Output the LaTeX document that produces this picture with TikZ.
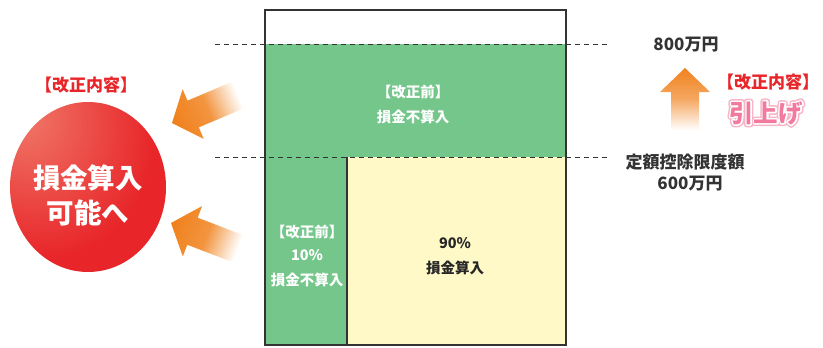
\documentclass[tikz,border=0pt]{standalone}
\usepackage{fontspec}
\setmainfont{Noto Sans CJK JP}
\usetikzlibrary{shapes.geometric}
\definecolor{gr}{HTML}{74C68B}
\definecolor{yl}{HTML}{FFF9C8}
\definecolor{rd}{HTML}{E8262A}
\definecolor{ltrd}{HTML}{F07A6A}
\definecolor{og}{HTML}{F0821E}
\definecolor{pk}{HTML}{F27A9E}
\definecolor{lpk}{HTML}{F7B5C8}
\definecolor{dk}{HTML}{333333}
\pgfdeclareradialshading{redball}{\pgfpoint{-22bp}{22bp}}{color(0bp)=(ltrd); color(35bp)=(rd); color(100bp)=(rd)}
\newcommand{\strk}[2]{\special{pdf:code 1 Tr #1 w 1 j}#2\special{pdf:code 0 Tr 1 w}}
\tikzset{
  wlab/.style={text=white, font=\bfseries\fontsize{14.5}{16}\selectfont, align=center},
  dlab/.style={text=black!85, font=\bfseries\fontsize{14.5}{16}\selectfont, align=center},
  rlab/.style={text=black!80, font=\bfseries\fontsize{17}{19}\selectfont, align=center},
  redlab/.style={text=rd, font=\bfseries\fontsize{17}{19}\selectfont},
  guide/.style={draw=dk, line width=1pt, dash pattern=on 5pt off 4pt},
  box/.style={draw=dk, line width=1.2pt},
  diag/.style={shading=axis, top color=white, bottom color=og, middle color=og!85},
}
\begin{document}
\begin{tikzpicture}[x=1pt,y=-1pt]
\useasboundingbox (0,0) rectangle (823,348);
% fills
\fill[gr] (265,44) rectangle (566,157);
\fill[gr] (265,157) rectangle (347,345);
\fill[yl] (347,157) rectangle (566,345);
\draw[box] (347,157) -- (347,345);
\draw[box] (265,10) rectangle (566,345);
% guides
\coordinate (g1a) at (215,44); \coordinate (g1b) at (610,44);
\coordinate (g2a) at (215,157); \coordinate (g2b) at (610,157);
\draw[guide] (g1a) -- (g1b);
\draw[guide] (g2a) -- (g2b);
% texts in box
\node[wlab] (t1) at (413,92) {【改正前】};
\node[wlab] (t2) at (413,117) {損金不算入};
\node[wlab] (l1) at (307,232) {【改正前】};
\node[wlab] (l2) at (307,255) {10\%};
\node[wlab] (l3) at (307,280) {損金不算入};
\node[dlab] (y1) at (455,243) {90\%};
\node[dlab] (y2) at (455,268) {損金算入};
% right labels
\node[rlab] (r800) at (686,45) {800万円};
\node[rlab] (rdef) at (685,162) {定額控除限度額};
\node[rlab] (r600) at (690,184) {600万円};
% up arrow
\shade[top color=og, bottom color=white, middle color=og!70]
  (685,68) -- (710,92) -- (699,92) -- (699,130) -- (671,130) -- (671,92) -- (660,92) -- cycle;
\node[redlab] (rk) at (768,82) {【改正内容】};
\node[font=\bfseries\fontsize{24.5}{26}\selectfont] (hikiage) at (766,113)
  {\rlap{\color{lpk}\strk{6}{引上げ}}\rlap{\color{white}\strk{3}{引上げ}}{\color{pk}引上げ}};
% left
\node[redlab] (lk) at (86,85) {【改正内容】};
\shade[shading=redball] (88,187) ellipse [x radius=78, y radius=85];
\node[text=white, font=\bfseries\fontsize{27.5}{35}\selectfont, align=center] (ball) at (88,195) {損金算入\\可能へ};
% diagonal arrows
\begin{scope}[shift={(172,123)}, rotate=203]
  \shade[diag, shading angle=-67]
    (0,0) -- (-23,-27) -- (-23,-14.5) -- (-72,-14.5) -- (-72,14.5) -- (-23,14.5) -- (-23,27) -- cycle;
\end{scope}
\begin{scope}[shift={(171,223)}, rotate=159]
  \shade[diag, shading angle=-111]
    (0,0) -- (-23,-27) -- (-23,-14.5) -- (-72,-14.5) -- (-72,14.5) -- (-23,14.5) -- (-23,27) -- cycle;
\end{scope}
\end{tikzpicture}
\end{document}
